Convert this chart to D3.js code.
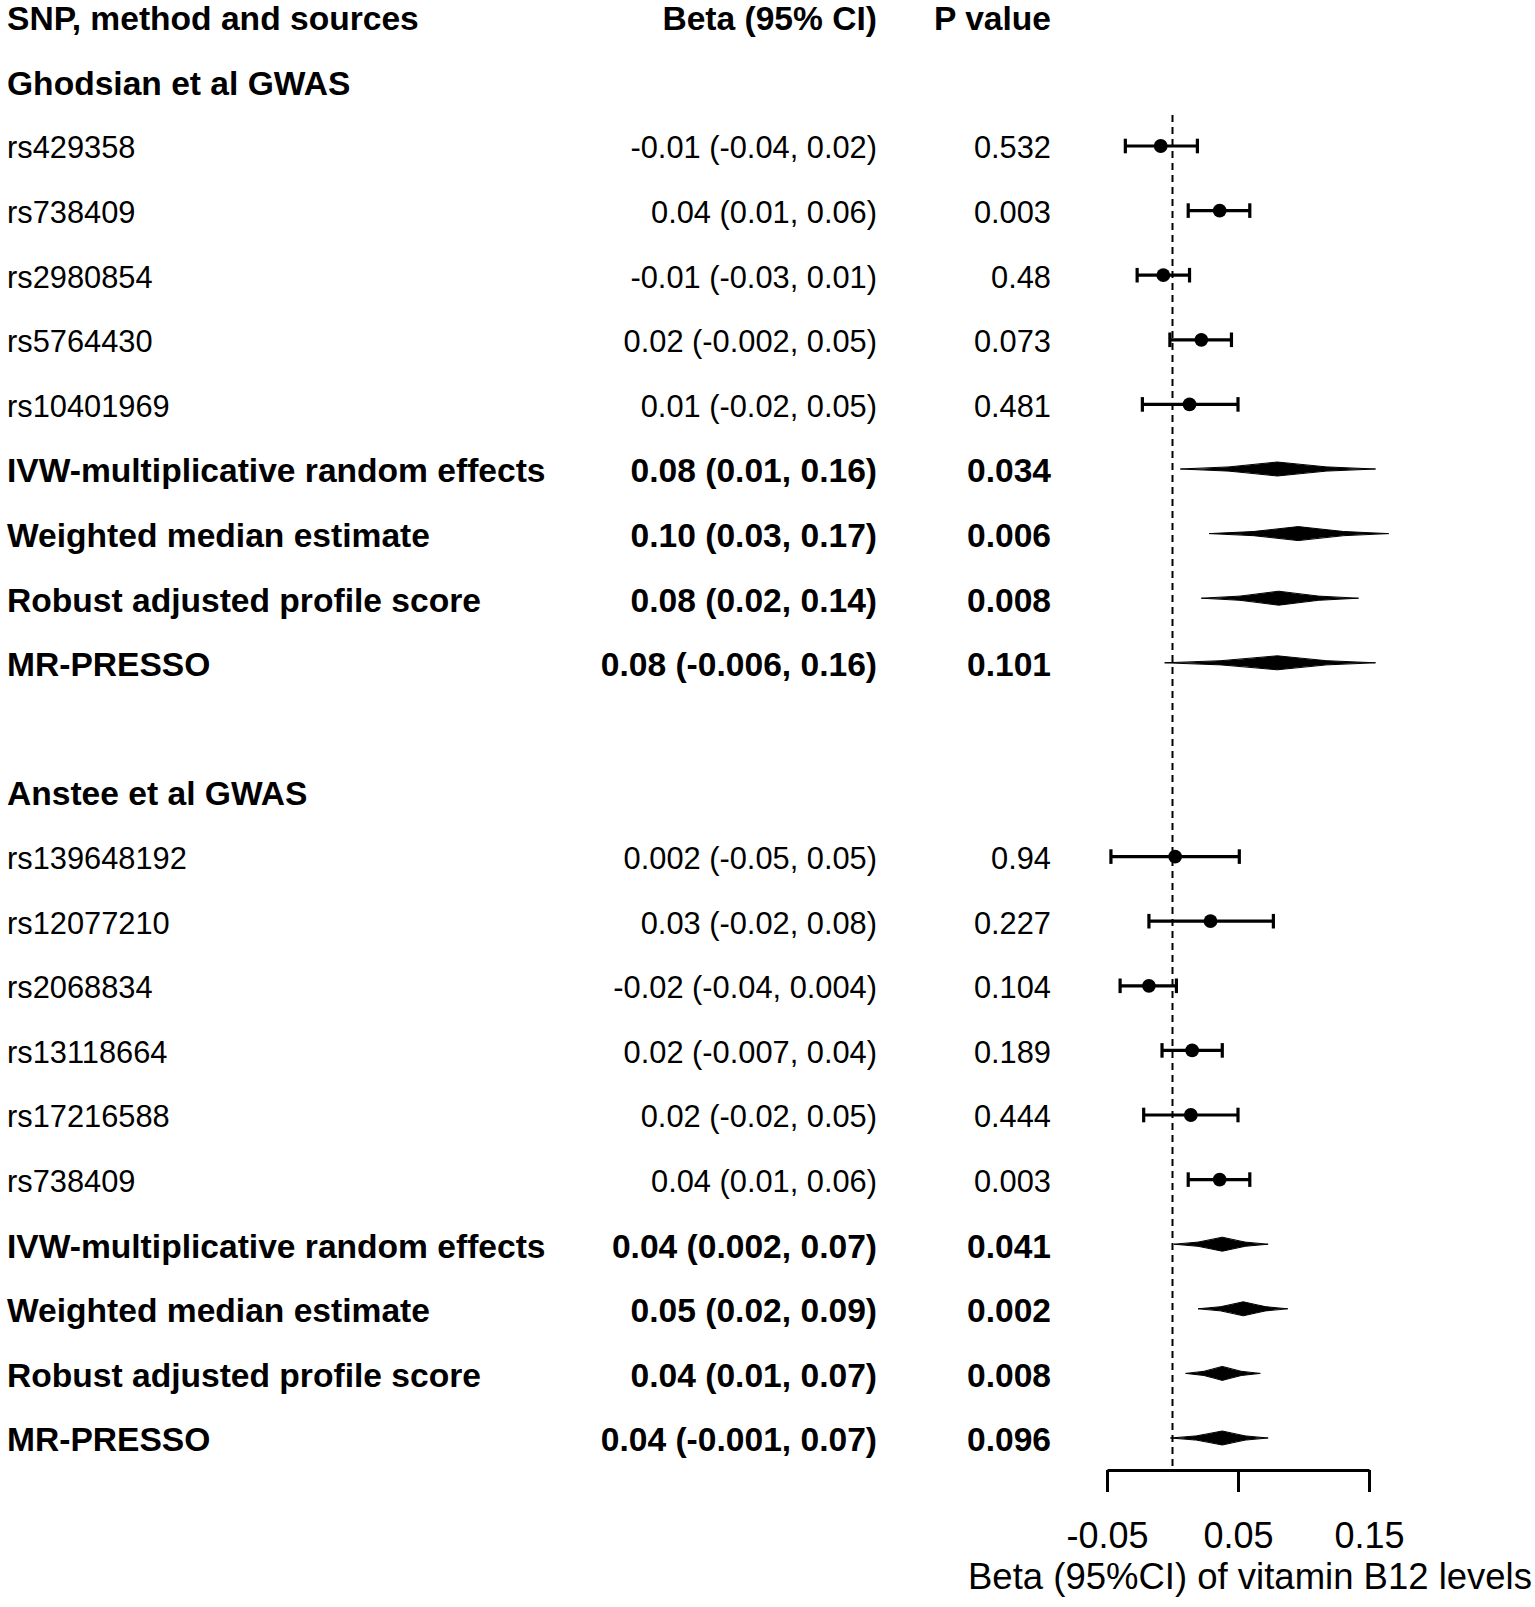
<!DOCTYPE html>
<html><head><meta charset="utf-8">
<script src="https://cdn.jsdelivr.net/npm/d3@7"></script>
<style>
body{margin:0;background:#fff}
svg{display:block;background:#fff}
text{font-family:"Liberation Sans",Arial,Helvetica,sans-serif;fill:#000}
</style>
</head><body>
<svg id="chart" width="1535" height="1607"></svg>
<script>
// ---------------- data ----------------
const headers = ["SNP, method and sources", "Beta (95% CI)", "P value"];
const groupTitles = ["Ghodsian et al GWAS", "Anstee et al GWAS"];
const methods = ["IVW-multiplicative random effects", "Weighted median estimate", "Robust adjusted profile score", "MR-PRESSO"];

const ghodsianSNPs = ["rs429358", "rs738409", "rs2980854", "rs5764430", "rs10401969"];
const ghodsianSNPBeta = ["-0.01 (-0.04, 0.02)", "0.04 (0.01, 0.06)", "-0.01 (-0.03, 0.01)", "0.02 (-0.002, 0.05)", "0.01 (-0.02, 0.05)"];
const ghodsianSNPP = ["0.532", "0.003", "0.48", "0.073", "0.481"];
const ghodsianSNPEst = [-0.009, 0.036, -0.007, 0.022, 0.013];
const ghodsianSNPLo  = [-0.036, 0.012, -0.027, -0.002, -0.023];
const ghodsianSNPHi  = [0.019, 0.059, 0.013, 0.045, 0.050];

const ghodsianMethodBeta = ["0.08 (0.01, 0.16)", "0.10 (0.03, 0.17)", "0.08 (0.02, 0.14)", "0.08 (-0.006, 0.16)"];
const ghodsianMethodP = ["0.034", "0.006", "0.008", "0.101"];
const ghodsianMethodEst = [0.080, 0.096, 0.081, 0.080];
const ghodsianMethodLo  = [0.006, 0.028, 0.022, -0.006];
const ghodsianMethodHi  = [0.155, 0.165, 0.142, 0.155];

const ansteeSNPs = ["rs139648192", "rs12077210", "rs2068834", "rs13118664", "rs17216588", "rs738409"];
const ansteeSNPBeta = ["0.002 (-0.05, 0.05)", "0.03 (-0.02, 0.08)", "-0.02 (-0.04, 0.004)", "0.02 (-0.007, 0.04)", "0.02 (-0.02, 0.05)", "0.04 (0.01, 0.06)"];
const ansteeSNPP = ["0.94", "0.227", "0.104", "0.189", "0.444", "0.003"];
const ansteeSNPEst = [0.002, 0.029, -0.018, 0.015, 0.014, 0.036];
const ansteeSNPLo  = [-0.047, -0.018, -0.040, -0.008, -0.022, 0.012];
const ansteeSNPHi  = [0.051, 0.077, 0.003, 0.038, 0.050, 0.059];

const ansteeMethodBeta = ["0.04 (0.002, 0.07)", "0.05 (0.02, 0.09)", "0.04 (0.01, 0.07)", "0.04 (-0.001, 0.07)"];
const ansteeMethodP = ["0.041", "0.002", "0.008", "0.096"];
const ansteeMethodEst = [0.038, 0.054, 0.038, 0.038];
const ansteeMethodLo  = [0.001, 0.0195, 0.010, -0.0016];
const ansteeMethodHi  = [0.073, 0.088, 0.067, 0.073];

const tickValues = [-0.05, 0.05, 0.15];
const tickLabels = ["-0.05", "0.05", "0.15"];
const xAxisTitle = "Beta (95%CI) of vitamin B12 levels";

// ---------------- rows ----------------
const rows = [];
rows.push({kind: "header", label: headers[0], beta: headers[1], p: headers[2]});
function addGroup(title, snps, sb, sp, se, sl, sh, mb, mp, me, ml, mh) {
  rows.push({kind: "group", label: title});
  snps.forEach((s, i) => rows.push({kind: "snp", label: s, beta: sb[i], p: sp[i], est: se[i], lo: sl[i], hi: sh[i]}));
  methods.forEach((m, i) => rows.push({kind: "summary", label: m, beta: mb[i], p: mp[i], est: me[i], lo: ml[i], hi: mh[i]}));
}
addGroup(groupTitles[0], ghodsianSNPs, ghodsianSNPBeta, ghodsianSNPP, ghodsianSNPEst, ghodsianSNPLo, ghodsianSNPHi,
         ghodsianMethodBeta, ghodsianMethodP, ghodsianMethodEst, ghodsianMethodLo, ghodsianMethodHi);
rows.push({kind: "blank"});
addGroup(groupTitles[1], ansteeSNPs, ansteeSNPBeta, ansteeSNPP, ansteeSNPEst, ansteeSNPLo, ansteeSNPHi,
         ansteeMethodBeta, ansteeMethodP, ansteeMethodEst, ansteeMethodLo, ansteeMethodHi);
rows.forEach((r, i) => r.idx = i);

// ---------------- layout ----------------
const svg = d3.select("#chart");
svg.append("rect").attr("width", 1535).attr("height", 1607).attr("fill", "#fff");

const x = d3.scaleLinear().domain([-0.05, 0.15]).range([1107, 1369]);
const y = d3.scaleLinear().domain([0, rows.length - 1]).range([16.8, 1438]);
const axisY = 1470;

const regSize = 30.8, boldSize = 33.6;
const colLabelX = 7, colBetaX = 877, colPX = 1051;

const textRows = rows.filter(r => r.kind !== "blank");
function isBold(r) { return r.kind !== "snp"; }
function fs(r) { return isBold(r) ? boldSize : regSize; }

const tg = svg.append("g");
tg.selectAll("text.lab").data(textRows).join("text")
  .attr("class", "lab")
  .attr("x", colLabelX)
  .attr("y", r => y(r.idx) + 0.4 * fs(r))
  .attr("font-size", fs)
  .attr("font-weight", r => isBold(r) ? "bold" : "normal")
  .text(r => r.label);

tg.selectAll("text.beta").data(textRows.filter(r => r.beta)).join("text")
  .attr("class", "beta")
  .attr("x", colBetaX)
  .attr("text-anchor", "end")
  .attr("y", r => y(r.idx) + 0.4 * fs(r))
  .attr("font-size", fs)
  .attr("font-weight", r => isBold(r) ? "bold" : "normal")
  .text(r => r.beta);

tg.selectAll("text.p").data(textRows.filter(r => r.p)).join("text")
  .attr("class", "p")
  .attr("x", colPX)
  .attr("text-anchor", "end")
  .attr("y", r => y(r.idx) + 0.4 * fs(r))
  .attr("font-size", fs)
  .attr("font-weight", r => isBold(r) ? "bold" : "normal")
  .text(r => r.p);

// zero reference line
svg.append("line")
  .attr("x1", x(0)).attr("x2", x(0))
  .attr("y1", 115).attr("y2", axisY)
  .attr("stroke", "#000").attr("stroke-width", 2)
  .attr("stroke-dasharray", "7,5");

// SNP CIs
const snpRows = rows.filter(r => r.kind === "snp");
const capH = 7.3;
const pg = svg.append("g").attr("stroke", "#000").attr("stroke-width", 3.2);
pg.selectAll("line.ci").data(snpRows).join("line")
  .attr("x1", r => x(r.lo)).attr("x2", r => x(r.hi))
  .attr("y1", r => y(r.idx)).attr("y2", r => y(r.idx));
pg.selectAll("line.capl").data(snpRows).join("line")
  .attr("class", "capl")
  .attr("x1", r => x(r.lo)).attr("x2", r => x(r.lo))
  .attr("y1", r => y(r.idx) - capH).attr("y2", r => y(r.idx) + capH);
pg.selectAll("line.caph").data(snpRows).join("line")
  .attr("class", "caph")
  .attr("x1", r => x(r.hi)).attr("x2", r => x(r.hi))
  .attr("y1", r => y(r.idx) - capH).attr("y2", r => y(r.idx) + capH);
svg.selectAll("circle.pt").data(snpRows).join("circle")
  .attr("class", "pt")
  .attr("cx", r => x(r.est)).attr("cy", r => y(r.idx))
  .attr("r", 6.9).attr("fill", "#000");

// summary diamonds (slightly concave sides)
const sumRows = rows.filter(r => r.kind === "summary");
const dh = 7;
function diamond(r) {
  const lo = x(r.lo), m = x(r.est), hi = x(r.hi), cy = y(r.idx);
  const k = 0.1;
  return `M${lo},${cy}` +
    `Q${(lo + m) / 2},${cy - dh * k} ${m},${cy - dh}` +
    `Q${(m + hi) / 2},${cy - dh * k} ${hi},${cy}` +
    `Q${(m + hi) / 2},${cy + dh * k} ${m},${cy + dh}` +
    `Q${(lo + m) / 2},${cy + dh * k} ${lo},${cy}Z`;
}
svg.selectAll("path.dia").data(sumRows).join("path")
  .attr("class", "dia")
  .attr("d", diamond)
  .attr("fill", "#000").attr("stroke", "#000").attr("stroke-width", 1);

// x axis
const axis = d3.axisBottom(x)
  .tickValues(tickValues)
  .tickFormat((d, i) => tickLabels[i])
  .tickSize(22).tickSizeOuter(0).tickPadding(30);
const ag = svg.append("g").attr("transform", `translate(0,${axisY})`).call(axis);
ag.select(".domain").attr("stroke-width", 3);
ag.selectAll(".tick line").attr("stroke-width", 3);
ag.selectAll(".tick text")
  .attr("font-size", 36)
  .attr("font-family", '"Liberation Sans",Arial,sans-serif')
  .attr("fill", "#000");

svg.append("text")
  .attr("x", 1250).attr("y", 1589)
  .attr("text-anchor", "middle")
  .attr("font-size", 36.5)
  .text(xAxisTitle);
</script>
</body></html>
